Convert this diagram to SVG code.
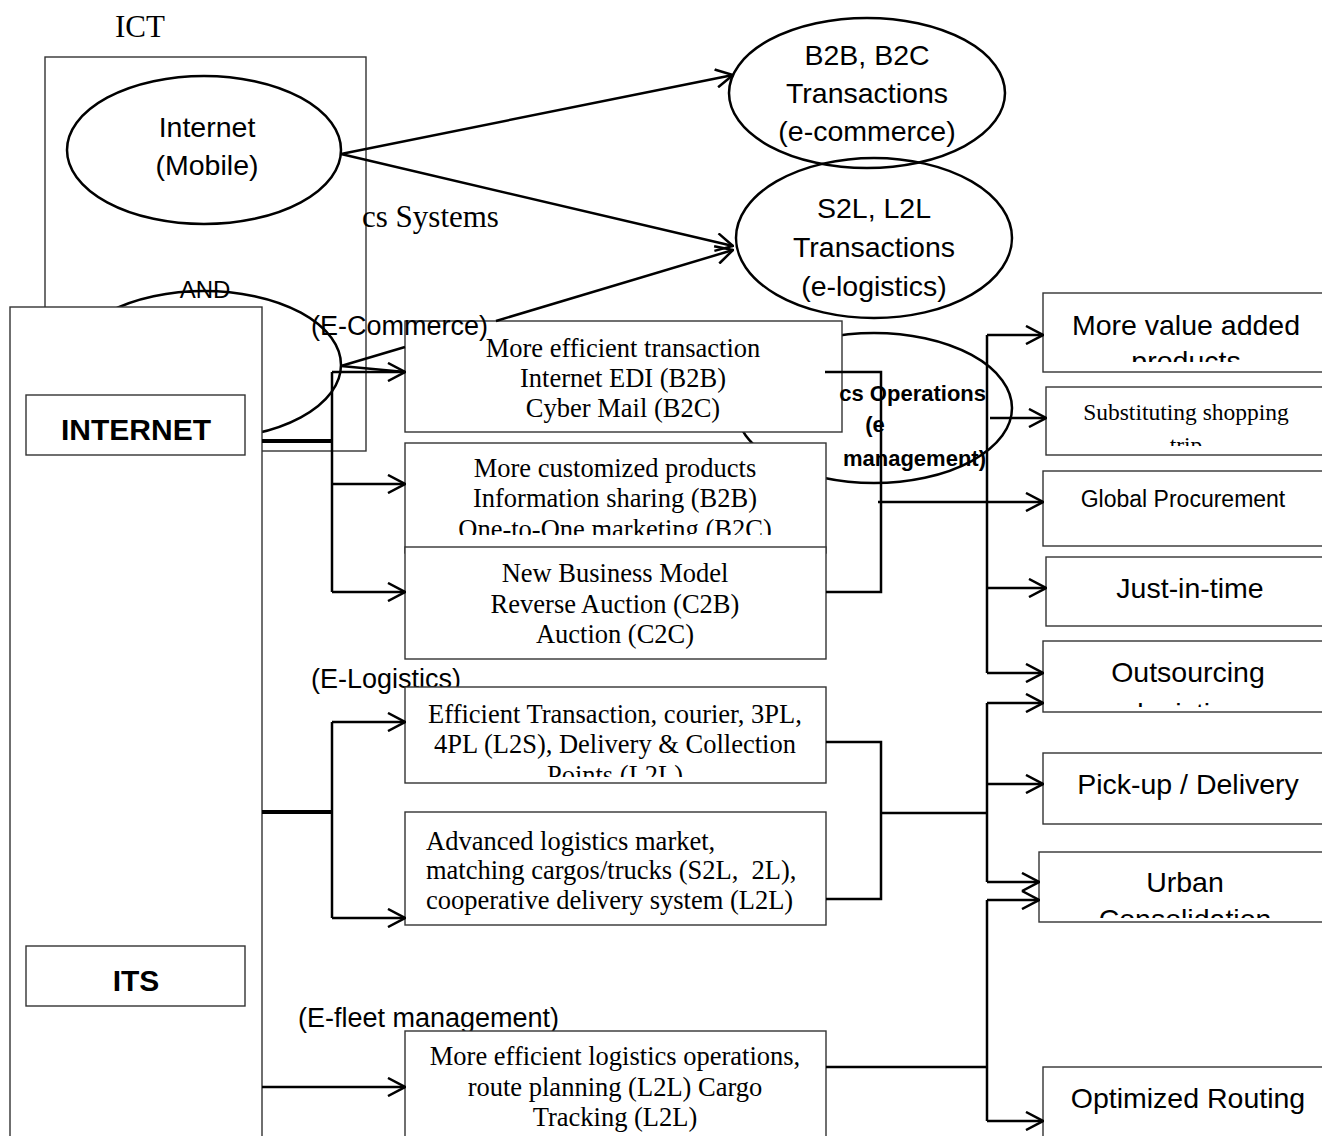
<svg xmlns="http://www.w3.org/2000/svg" width="1322" height="1136" viewBox="0 0 1322 1136">
<style>
.box{fill:#fff;stroke:#333;stroke-width:1.4}
.ell{fill:#fff;stroke:#000;stroke-width:2.5}
.ello{fill:none;stroke:#000;stroke-width:2.5}
.c{fill:none;stroke:#000;stroke-width:2.5}
.ca{fill:none;stroke:#000;stroke-width:2.5;marker-end:url(#arr)}
.thk{fill:none;stroke:#000;stroke-width:4}
.sans{font-family:"Liberation Sans",Arial,sans-serif;fill:#000}
.serif{font-family:"Liberation Serif","Times New Roman",serif;fill:#000}
.mid{text-anchor:middle}
.end{text-anchor:end}
.b{font-weight:bold}
.s28{font-size:28.5px}
.t27{font-size:26.5px}
</style>
<defs>
<marker id="arr" viewBox="0 0 20 20" refX="19" refY="10" markerWidth="20" markerHeight="20" markerUnits="userSpaceOnUse" orient="auto">
<path d="M2,1 L19,10 L2,19" fill="none" stroke="#000" stroke-width="2.5"/>
</marker>
<clipPath id="cp2" clipPathUnits="userSpaceOnUse"><rect x="405" y="440" width="421" height="95"/></clipPath>
<clipPath id="cp4" clipPathUnits="userSpaceOnUse"><rect x="405" y="687" width="421" height="90"/></clipPath>
<clipPath id="cpA" clipPathUnits="userSpaceOnUse"><rect x="1043" y="293" width="290" height="69"/></clipPath>
<clipPath id="cpB" clipPathUnits="userSpaceOnUse"><rect x="1046" y="387" width="290" height="59"/></clipPath>
<clipPath id="cpE" clipPathUnits="userSpaceOnUse"><rect x="1043" y="641" width="290" height="66"/></clipPath>
<clipPath id="cpG" clipPathUnits="userSpaceOnUse"><rect x="1039" y="852" width="290" height="66"/></clipPath>
</defs>

<text class="serif" x="140" y="37" font-size="31" text-anchor="middle">ICT</text>

<g id="ict">
<rect class="box" x="45" y="57" width="321" height="394"/>
</g>
<text class="serif" x="362" y="227" font-size="31">cs Systems</text>

<g id="internet-mobile">
<ellipse class="ell" cx="204" cy="150" rx="137" ry="74"/>
<text class="sans s28 mid" x="207" y="137">Internet</text>
<text class="sans s28 mid" x="207" y="175">(Mobile)</text>
</g>

<g id="and">
<ellipse class="ell" cx="204" cy="365" rx="137" ry="74"/>
</g>

<g id="b2b">
<ellipse class="ello" cx="867" cy="93" rx="138" ry="75"/>
<text class="sans s28 mid" x="867" y="65">B2B, B2C</text>
<text class="sans s28 mid" x="867" y="103">Transactions</text>
<text class="sans s28 mid" x="867" y="141">(e-commerce)</text>
</g>

<g id="s2l">
<ellipse class="ello" cx="874" cy="238" rx="138" ry="80"/>
<text class="sans s28 mid" x="874" y="218">S2L, L2L</text>
<text class="sans s28 mid" x="874" y="257">Transactions</text>
<text class="sans s28 mid" x="874" y="296">(e-logistics)</text>
</g>

<g id="operations">
<ellipse class="ell" cx="874" cy="408" rx="138" ry="75"/>
</g>

<g id="left-panel">
<rect class="box" x="10" y="307" width="252" height="840"/>
</g>
<text class="sans mid" x="205" y="298" font-size="24">AND</text>

<g id="internet">
<rect class="box" x="26" y="395" width="219" height="60"/>
<text class="sans b mid" x="136" y="440" font-size="30">INTERNET</text>
</g>

<g id="its">
<rect class="box" x="26" y="946" width="219" height="60"/>
<text class="sans b mid" x="136" y="991" font-size="30">ITS</text>
</g>

<g id="box-transaction">
<rect class="box" x="405" y="321" width="437" height="111"/>
<text class="serif t27 mid" x="623" y="357">More efficient transaction</text>
<text class="serif t27 mid" x="623" y="387">Internet EDI (B2B)</text>
<text class="serif t27 mid" x="623" y="417">Cyber Mail (B2C)</text>
</g>

<g id="ops-text">
<text class="sans b end" x="986" y="401" font-size="22">cs Operations</text>
<text class="sans b mid" x="875" y="432" font-size="22">(e</text>
<text class="sans b end" x="986" y="466" font-size="22">management)</text>
</g>

<g id="box-customized">
<rect class="box" x="405" y="443" width="421" height="110"/>
<text class="serif t27 mid" x="615" y="477">More customized products</text>
<text class="serif t27 mid" x="615" y="507">Information sharing (B2B)</text>
<text class="serif t27 mid" x="615" y="538" clip-path="url(#cp2)">One-to-One marketing (B2C)</text>
</g>

<g id="box-business">
<rect class="box" x="405" y="547" width="421" height="112"/>
<text class="serif t27 mid" x="615" y="582">New Business Model</text>
<text class="serif t27 mid" x="615" y="613">Reverse Auction (C2B)</text>
<text class="serif t27 mid" x="615" y="643">Auction (C2C)</text>
</g>

<text class="sans" x="311" y="335" font-size="27">(E-Commerce)</text>
<text class="sans" x="311" y="688" font-size="27">(E-Logistics)</text>
<text class="sans" x="298" y="1027" font-size="27">(E-fleet management)</text>

<g id="box-courier">
<rect class="box" x="405" y="687" width="421" height="96"/>
<text class="serif t27 mid" x="615" y="723">Efficient Transaction, courier, 3PL,</text>
<text class="serif t27 mid" x="615" y="753">4PL (L2S), Delivery &amp; Collection</text>
<text class="serif t27 mid" x="615" y="784" clip-path="url(#cp4)">Points (L2L)</text>
</g>

<g id="box-market">
<rect class="box" x="405" y="812" width="421" height="113"/>
<text class="serif t27" x="426" y="850">Advanced logistics market,</text>
<text class="serif t27" x="426" y="879" xml:space="preserve">matching cargos/trucks (S2L,  2L),</text>
<text class="serif t27" x="426" y="909">cooperative delivery system (L2L)</text>
</g>

<g id="box-fleet">
<rect class="box" x="405" y="1031" width="421" height="120"/>
<text class="serif t27 mid" x="615" y="1065">More efficient logistics operations,</text>
<text class="serif t27 mid" x="615" y="1096">route planning (L2L) Cargo</text>
<text class="serif t27 mid" x="615" y="1126">Tracking (L2L)</text>
</g>

<g id="r-value">
<rect class="box" x="1043" y="293" width="290" height="79"/>
<text class="sans s28 mid" x="1186" y="335">More value added</text>
<text class="sans s28 mid" x="1186" y="371" clip-path="url(#cpA)">products</text>
</g>
<g id="r-shopping">
<rect class="box" x="1046" y="387" width="290" height="68"/>
<text class="serif mid" x="1186" y="420" font-size="23.5">Substituting shopping</text>
<text class="serif mid" x="1186" y="453" font-size="23.5" clip-path="url(#cpB)">trip</text>
</g>
<g id="r-global">
<rect class="box" x="1043" y="471" width="290" height="75"/>
<text class="sans mid" x="1183" y="507" font-size="23">Global Procurement</text>
</g>
<g id="r-jit">
<rect class="box" x="1046" y="557" width="290" height="69"/>
<text class="sans s28 mid" x="1190" y="598">Just-in-time</text>
</g>
<g id="r-outsourcing">
<rect class="box" x="1043" y="641" width="290" height="71"/>
<text class="sans s28 mid" x="1188" y="682">Outsourcing</text>
<text class="sans s28 mid" x="1188" y="723" clip-path="url(#cpE)">logistics</text>
</g>
<g id="r-pickup">
<rect class="box" x="1043" y="753" width="290" height="71"/>
<text class="sans s28 mid" x="1188" y="794">Pick-up / Delivery</text>
</g>
<g id="r-urban">
<rect class="box" x="1039" y="852" width="290" height="70"/>
<text class="sans s28 mid" x="1185" y="892">Urban</text>
<text class="sans s28 mid" x="1185" y="929" clip-path="url(#cpG)">Consolidation</text>
</g>
<g id="r-routing">
<rect class="box" x="1043" y="1067" width="290" height="80"/>
<text class="sans s28 mid" x="1188" y="1108">Optimized Routing</text>
</g>

<g id="connectors">
<path class="ca" d="M341,154 L733,75"/>
<path class="ca" d="M341,154 L733,246"/>
<path class="c" d="M341,366 L405,347"/>
<path class="ca" d="M496,321 L733,250"/>
<path class="c" d="M341,366 L405,372"/>
<path class="thk" d="M262,441 L333,441"/>
<path class="c" d="M332,372 L332,592"/>
<path class="ca" d="M332,372 L405,372"/>
<path class="ca" d="M332,484 L405,484"/>
<path class="ca" d="M332,592 L405,592"/>
<path class="c" d="M825,372 L881,372 L881,592 L826,592"/>
<path class="ca" d="M878,502 L1043,502"/>
<path class="c" d="M987,335 L987,673"/>
<path class="ca" d="M987,335 L1043,335"/>
<path class="ca" d="M990,418 L1046,418"/>
<path class="ca" d="M987,588 L1046,588"/>
<path class="ca" d="M987,673 L1043,673"/>
<path class="thk" d="M262,812 L333,812"/>
<path class="c" d="M332,722 L332,918"/>
<path class="ca" d="M332,722 L405,722"/>
<path class="ca" d="M332,918 L405,918"/>
<path class="c" d="M826,742 L881,742 L881,899 L826,899"/>
<path class="c" d="M881,813 L987,813"/>
<path class="c" d="M987,703 L987,882"/>
<path class="ca" d="M987,703 L1043,703"/>
<path class="ca" d="M987,784 L1043,784"/>
<path class="ca" d="M987,882 L1039,882"/>
<path class="ca" d="M262,1087 L405,1087"/>
<path class="c" d="M826,1067 L987,1067"/>
<path class="c" d="M987,900 L987,1121"/>
<path class="ca" d="M987,900 L1039,900"/>
<path class="ca" d="M987,1121 L1043,1121"/>
</g>
</svg>
